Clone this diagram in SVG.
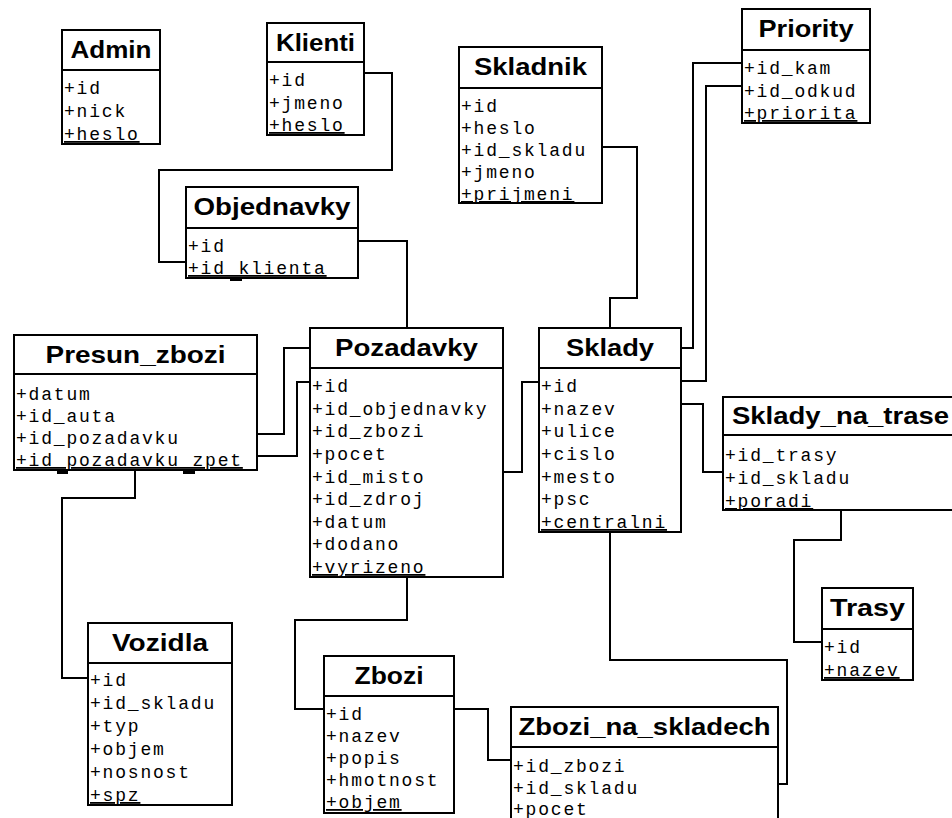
<svg xmlns="http://www.w3.org/2000/svg" width="952" height="818" viewBox="0 0 952 818">
  <style>
    .box { fill: #ffffff; stroke: #000000; stroke-width: 2; }
    .sep { stroke: #000000; stroke-width: 2; }
    .mark { fill: #000000; }
    .title { font-family: "Liberation Sans", Arial, sans-serif; font-weight: bold; font-size: 24px; fill: #000000; text-anchor: middle; }
    .attr { font-family: "Liberation Mono", "Courier New", monospace; font-size: 18px; letter-spacing: 1.8px; fill: #000000; }
    .last { text-decoration: underline; }
    .link { fill: none; stroke: #000000; stroke-width: 2; stroke-linejoin: miter; }
  </style>
  <rect width="952" height="818" fill="#ffffff"/>

  <!-- relations between tables -->
  <g id="connectors">
    <polyline class="link" points="364,73 392,73 392,170 159,170 159,262 186,262"/>
    <polyline class="link" points="358,241 407,241 407,328"/>
    <polyline class="link" points="602,147 637,147 637,298 610,298 610,328"/>
    <polyline class="link" points="742,63 693,63 693,348 681,348"/>
    <polyline class="link" points="742,86 706,86 706,381 681,381"/>
    <polyline class="link" points="681,404 703,404 703,472 723,472"/>
    <polyline class="link" points="841,510 841,540 794,540 794,642 822,642"/>
    <polyline class="link" points="610,532 610,660 787,660 787,784 778,784"/>
    <polyline class="link" points="257,434 284,434 284,348 310,348"/>
    <polyline class="link" points="257,456 297,456 297,382 310,382"/>
    <polyline class="link" points="503,472 522,472 522,382 539,382"/>
    <polyline class="link" points="407,577 407,620 295,620 295,709 324,709"/>
    <polyline class="link" points="454,709 488,709 488,760 511,760"/>
    <polyline class="link" points="135,470 135,498 62,498 62,678 88,678"/>
  </g>

  <g id="admin">
    <rect class="box" x="62" y="30" width="98" height="114"/>
    <line class="sep" x1="62" y1="70" x2="160" y2="70"/>
    <text class="title" x="111" y="58" textLength="81" lengthAdjust="spacingAndGlyphs">Admin</text>
    <text class="attr" x="64" y="94">+id</text>
    <text class="attr" x="64" y="117">+nick</text>
    <text class="attr last" x="64" y="140">+heslo</text>
  </g>

  <g id="klienti">
    <rect class="box" x="267" y="23" width="97" height="112"/>
    <line class="sep" x1="267" y1="62" x2="364" y2="62"/>
    <text class="title" x="315.5" y="51" textLength="79" lengthAdjust="spacingAndGlyphs">Klienti</text>
    <text class="attr" x="269" y="86">+id</text>
    <text class="attr" x="269" y="108.5">+jmeno</text>
    <text class="attr last" x="269" y="131">+heslo</text>
  </g>

  <g id="objednavky">
    <rect class="box" x="186" y="187" width="172" height="91"/>
    <line class="sep" x1="186" y1="228" x2="358" y2="228"/>
    <rect class="mark" x="230" y="277" width="12" height="4"/>
    <text class="title" x="272" y="215" textLength="157" lengthAdjust="spacingAndGlyphs">Objednavky</text>
    <text class="attr" x="188" y="252">+id</text>
    <text class="attr last" x="188" y="274">+id_klienta</text>
  </g>

  <g id="skladnik">
    <rect class="box" x="459" y="47" width="143" height="156"/>
    <line class="sep" x1="459" y1="88" x2="602" y2="88"/>
    <text class="title" x="530.5" y="75" textLength="113" lengthAdjust="spacingAndGlyphs">Skladnik</text>
    <text class="attr" x="461" y="112">+id</text>
    <text class="attr" x="461" y="134">+heslo</text>
    <text class="attr" x="461" y="156">+id_skladu</text>
    <text class="attr" x="461" y="178">+jmeno</text>
    <text class="attr last" x="461" y="200">+prijmeni</text>
  </g>

  <g id="priority">
    <rect class="box" x="742" y="9" width="128" height="114"/>
    <line class="sep" x1="742" y1="50" x2="870" y2="50"/>
    <text class="title" x="806" y="37" textLength="95" lengthAdjust="spacingAndGlyphs">Priority</text>
    <text class="attr" x="744" y="74">+id_kam</text>
    <text class="attr" x="744" y="96.5">+id_odkud</text>
    <text class="attr last" x="744" y="119">+priorita</text>
  </g>

  <g id="presun_zbozi">
    <rect class="box" x="14" y="335" width="243" height="135"/>
    <line class="sep" x1="14" y1="374" x2="257" y2="374"/>
    <rect class="mark" x="57" y="470" width="11" height="4"/>
    <rect class="mark" x="183" y="470" width="12" height="4"/>
    <text class="title" x="135.5" y="363" textLength="180" lengthAdjust="spacingAndGlyphs">Presun_zbozi</text>
    <text class="attr" x="16" y="400">+datum</text>
    <text class="attr" x="16" y="422">+id_auta</text>
    <text class="attr" x="16" y="444">+id_pozadavku</text>
    <text class="attr last" x="16" y="466">+id_pozadavku_zpet</text>
  </g>

  <g id="pozadavky">
    <rect class="box" x="310" y="328" width="193" height="249"/>
    <line class="sep" x1="310" y1="368" x2="503" y2="368"/>
    <text class="title" x="406.5" y="356" textLength="143" lengthAdjust="spacingAndGlyphs">Pozadavky</text>
    <text class="attr" x="312" y="392">+id</text>
    <text class="attr" x="312" y="414.6">+id_objednavky</text>
    <text class="attr" x="312" y="437.2">+id_zbozi</text>
    <text class="attr" x="312" y="459.8">+pocet</text>
    <text class="attr" x="312" y="482.5">+id_misto</text>
    <text class="attr" x="312" y="505.1">+id_zdroj</text>
    <text class="attr" x="312" y="527.7">+datum</text>
    <text class="attr" x="312" y="550.3">+dodano</text>
    <text class="attr last" x="312" y="573">+vyrizeno</text>
  </g>

  <g id="sklady">
    <rect class="box" x="539" y="328" width="142" height="204"/>
    <line class="sep" x1="539" y1="368" x2="681" y2="368"/>
    <text class="title" x="610" y="356" textLength="88" lengthAdjust="spacingAndGlyphs">Sklady</text>
    <text class="attr" x="541" y="392">+id</text>
    <text class="attr" x="541" y="414.7">+nazev</text>
    <text class="attr" x="541" y="437.3">+ulice</text>
    <text class="attr" x="541" y="460">+cislo</text>
    <text class="attr" x="541" y="482.7">+mesto</text>
    <text class="attr" x="541" y="505.3">+psc</text>
    <text class="attr last" x="541" y="528">+centralni</text>
  </g>

  <g id="sklady_na_trase">
    <rect class="box" x="723" y="397" width="234" height="113"/>
    <line class="sep" x1="723" y1="435" x2="957" y2="435"/>
    <text class="title" x="840.5" y="424" textLength="217" lengthAdjust="spacingAndGlyphs">Sklady_na_trase</text>
    <text class="attr" x="725" y="461">+id_trasy</text>
    <text class="attr" x="725" y="484">+id_skladu</text>
    <text class="attr last" x="725" y="507">+poradi</text>
  </g>

  <g id="trasy">
    <rect class="box" x="822" y="588" width="91" height="92"/>
    <line class="sep" x1="822" y1="629" x2="913" y2="629"/>
    <text class="title" x="867.5" y="616" textLength="75" lengthAdjust="spacingAndGlyphs">Trasy</text>
    <text class="attr" x="824" y="653">+id</text>
    <text class="attr last" x="824" y="676">+nazev</text>
  </g>

  <g id="vozidla">
    <rect class="box" x="88" y="623" width="144" height="182"/>
    <line class="sep" x1="88" y1="663" x2="232" y2="663"/>
    <text class="title" x="160" y="651" textLength="96" lengthAdjust="spacingAndGlyphs">Vozidla</text>
    <text class="attr" x="90" y="686">+id</text>
    <text class="attr" x="90" y="709">+id_skladu</text>
    <text class="attr" x="90" y="732">+typ</text>
    <text class="attr" x="90" y="755">+objem</text>
    <text class="attr" x="90" y="778">+nosnost</text>
    <text class="attr last" x="90" y="801">+spz</text>
  </g>

  <g id="zbozi">
    <rect class="box" x="324" y="656" width="130" height="157"/>
    <line class="sep" x1="324" y1="696" x2="454" y2="696"/>
    <text class="title" x="389" y="684" textLength="69" lengthAdjust="spacingAndGlyphs">Zbozi</text>
    <text class="attr" x="326" y="720">+id</text>
    <text class="attr" x="326" y="742">+nazev</text>
    <text class="attr" x="326" y="764">+popis</text>
    <text class="attr" x="326" y="786">+hmotnost</text>
    <text class="attr last" x="326" y="808">+objem</text>
  </g>

  <g id="zbozi_na_skladech">
    <rect class="box" x="511" y="707" width="267" height="120"/>
    <line class="sep" x1="511" y1="747" x2="778" y2="747"/>
    <text class="title" x="644.5" y="735" textLength="252" lengthAdjust="spacingAndGlyphs">Zbozi_na_skladech</text>
    <text class="attr" x="513" y="772">+id_zbozi</text>
    <text class="attr" x="513" y="794">+id_skladu</text>
    <text class="attr" x="513" y="815">+pocet</text>
  </g>
</svg>
